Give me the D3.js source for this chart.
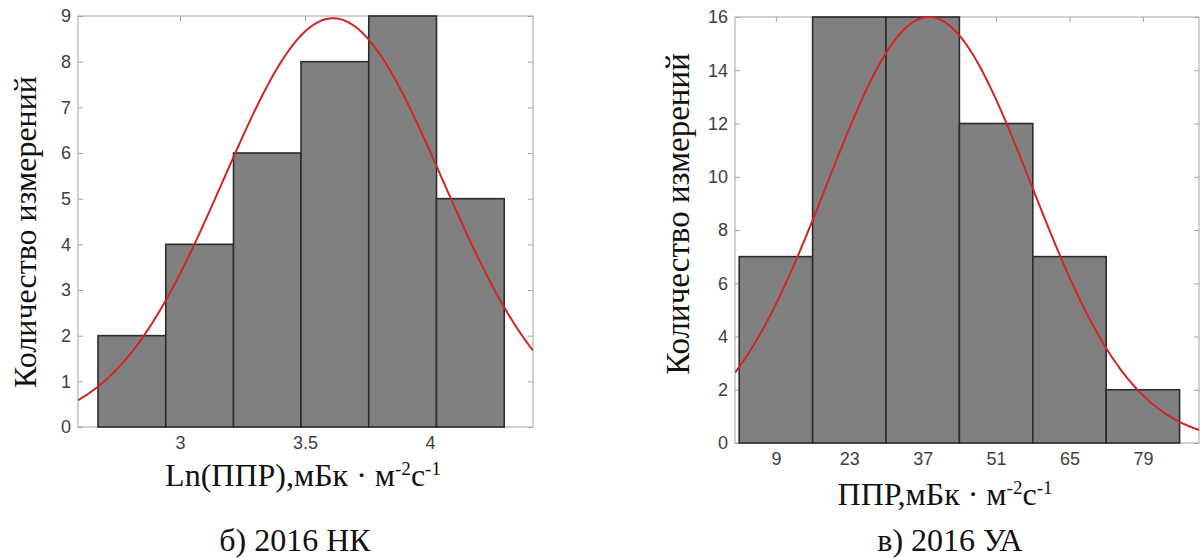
<!DOCTYPE html>
<html>
<head>
<meta charset="utf-8">
<script src="https://cdn.jsdelivr.net/npm/d3@7"></script>
<style>
  html, body { margin: 0; padding: 0; background: #fff; }
  svg { display: block; }
</style>
</head>
<body>
<svg id="chart" width="1200" height="558"></svg>
<script>
// ---------- DATA ----------
// Panel б) 2016 НК : histogram of Ln(ППР)
const leftBinEdges = [2.672, 2.943, 3.214, 3.484, 3.755, 4.026, 4.297];
const leftCounts   = [2, 4, 6, 8, 9, 5];
const leftXTicks   = [3, 3.5, 4];
const leftXTickLabels = ["3", "3.5", "4"];
const leftYTicks   = [0, 1, 2, 3, 4, 5, 6, 7, 8, 9];
const leftXDomain  = [2.592, 4.412];
const leftYDomain  = [0, 9];
const leftFit      = [3.612, 0.437, 8.95];   // mean, sigma, peak height of fitted normal

// Panel в) 2016 УА : histogram of ППР
const rightBinEdges = [2, 16, 30, 44, 58, 72, 86];
const rightCounts   = [7, 16, 16, 12, 7, 2];
const rightXTicks   = [9, 23, 37, 51, 65, 79];
const rightXTickLabels = ["9", "23", "37", "51", "65", "79"];
const rightYTicks   = [0, 2, 4, 6, 8, 10, 12, 14, 16];
const rightXDomain  = [1.2, 89.7];
const rightYDomain  = [0, 16];
const rightFit      = [38.2, 19.5, 16.0];    // mean, sigma, peak height of fitted normal

const yTitle = "Количество измерений";
const leftCaption  = "б) 2016 НК";
const rightCaption = "в) 2016 УА";

// ---------- DRAW ----------
const svg = d3.select("#chart");
const serif = "'Liberation Serif', 'Times New Roman', serif";

function drawPanel(p) {
  const x = d3.scaleLinear().domain(p.xDomain).range([p.left, p.right]);
  const y = d3.scaleLinear().domain(p.yDomain).range([p.bottom, p.top]);
  const g = svg.append("g");

  const clipId = "clip" + p.id;
  svg.append("clipPath").attr("id", clipId)
    .append("rect").attr("x", p.left).attr("y", p.top - 1)
    .attr("width", p.right - p.left).attr("height", p.bottom - p.top + 1);

  // box
  g.append("rect")
    .attr("x", p.left).attr("y", p.top)
    .attr("width", p.right - p.left).attr("height", p.bottom - p.top)
    .attr("fill", "none").attr("stroke", "#a3a3a3").attr("stroke-width", 1);

  // axes (ticks inward, mirrored)
  const styleAxis = sel => {
    sel.select(".domain").remove();
    sel.selectAll(".tick line").attr("stroke", "#a3a3a3");
    sel.selectAll(".tick text").attr("fill", "#404040")
      .style("font-family", "'Liberation Sans', Arial, sans-serif")
      .style("font-size", "18px");
  };
  g.append("g").attr("transform", `translate(${p.left},0)`)
    .call(d3.axisLeft(y).tickValues(p.yTicks).tickSizeInner(-5).tickSizeOuter(0).tickPadding(7).tickFormat(d3.format("d")))
    .call(styleAxis);
  g.append("g").attr("transform", `translate(${p.right},0)`)
    .call(d3.axisRight(y).tickValues(p.yTicks).tickSizeInner(-5).tickSizeOuter(0).tickFormat(""))
    .call(styleAxis);
  g.append("g").attr("transform", `translate(0,${p.bottom})`)
    .call(d3.axisBottom(x).tickValues(p.xTicks).tickSizeInner(-5).tickSizeOuter(0).tickPadding(9)
      .tickFormat((d, i) => p.xTickLabels[i]))
    .call(styleAxis);
  g.append("g").attr("transform", `translate(0,${p.top})`)
    .call(d3.axisTop(x).tickValues(p.xTicks).tickSizeInner(-5).tickSizeOuter(0).tickFormat(""))
    .call(styleAxis);

  // bars
  const bins = p.counts.map((c, i) => ({x0: p.edges[i], x1: p.edges[i + 1], c}));
  g.append("g").selectAll("rect").data(bins).join("rect")
    .attr("x", d => x(d.x0)).attr("y", d => y(d.c))
    .attr("width", d => x(d.x1) - x(d.x0)).attr("height", d => y(0) - y(d.c))
    .attr("fill", "#808080").attr("stroke", "#2b2b2b").attr("stroke-width", 1.6);

  // fitted normal curve
  const [mu, sigma, peak] = p.fit;
  const xs = d3.range(0, 301).map(i => p.xDomain[0] + (p.xDomain[1] - p.xDomain[0]) * i / 300);
  const line = d3.line()
    .x(v => x(v))
    .y(v => y(peak * Math.exp(-0.5 * Math.pow((v - mu) / sigma, 2))));
  g.append("path").datum(xs)
    .attr("clip-path", `url(#${clipId})`)
    .attr("d", line).attr("fill", "none")
    .attr("stroke", "#d02525").attr("stroke-width", 2);

  // y title
  g.append("text")
    .attr("transform", `translate(${p.yTitleX},${p.yTitleY}) rotate(-90)`)
    .attr("text-anchor", "middle")
    .style("font-family", serif)
    .style("font-size", p.yTitleSize + "px").attr("fill", "#111")
    .text(yTitle);

  // x title with superscripts
  const xt = g.append("text")
    .attr("x", p.xTitleX).attr("y", p.xTitleY)
    .attr("text-anchor", "middle")
    .style("font-family", serif)
    .style("font-size", "32px").attr("fill", "#111");
  xt.append("tspan").text(p.xTitleMain + ",мБк · м");
  xt.append("tspan").attr("dy", -11).style("font-size", "19px").text("-2");
  xt.append("tspan").attr("dy", 11).text("с");
  xt.append("tspan").attr("dy", -11).style("font-size", "19px").text("-1");

  // caption
  g.append("text")
    .attr("x", p.capX).attr("y", p.capY)
    .attr("text-anchor", "middle")
    .style("font-family", serif)
    .style("font-size", "32px").attr("fill", "#111")
    .text(p.caption);
}

drawPanel({
  id: "L", left: 78, right: 533, top: 16, bottom: 427,
  xDomain: leftXDomain, yDomain: leftYDomain, xTicks: leftXTicks, xTickLabels: leftXTickLabels,
  yTicks: leftYTicks, edges: leftBinEdges, counts: leftCounts, fit: leftFit,
  yTitleX: 36, yTitleY: 232, yTitleSize: 32,
  xTitleMain: "Ln(ППР)", xTitleX: 303, xTitleY: 486,
  caption: leftCaption, capX: 295, capY: 551
});
drawPanel({
  id: "R", left: 735, right: 1199, top: 17, bottom: 443,
  xDomain: rightXDomain, yDomain: rightYDomain, xTicks: rightXTicks, xTickLabels: rightXTickLabels,
  yTicks: rightYTicks, edges: rightBinEdges, counts: rightCounts, fit: rightFit,
  yTitleX: 689, yTitleY: 214, yTitleSize: 33,
  xTitleMain: "ППР", xTitleX: 945, xTitleY: 505,
  caption: rightCaption, capX: 950, capY: 551
});
</script>
</body>
</html>
